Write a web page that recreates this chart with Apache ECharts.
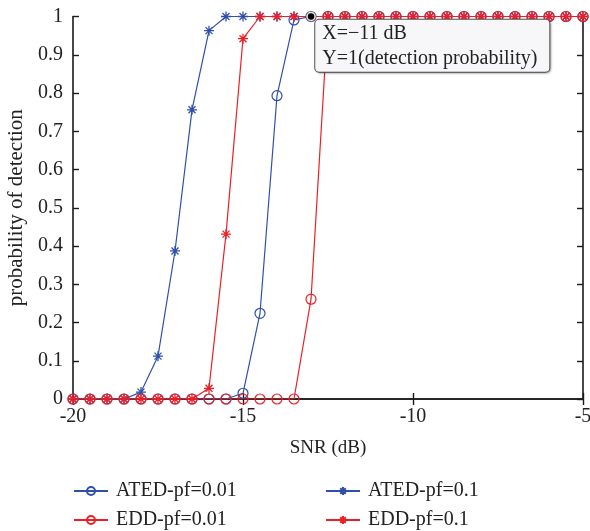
<!DOCTYPE html>
<html>
<head>
<meta charset="utf-8">
<script src="https://cdn.jsdelivr.net/npm/echarts@6/dist/echarts.min.js"></script>
<style>html,body{margin:0;padding:0;background:#fff;}#c{width:590px;height:531px;}</style>
</head>
<body>
<div id="c"></div>
<script>
var snr = [-20,-19.5,-19,-18.5,-18,-17.5,-17,-16.5,-16,-15.5,-15,-14.5,-14,-13.5,-13,-12.5,-12,-11.5,-11,-10.5,-10,-9.5,-9,-8.5,-8,-7.5,-7,-6.5,-6,-5.5,-5];
var atedPf001 = [0,0,0,0,0,0,0,0,0,0,0.015,0.224,0.793,0.991,1,1,1,1,1,1,1,1,1,1,1,1,1,1,1,1,1];
var atedPf01  = [0,0,0,0,0.018,0.112,0.387,0.756,0.963,1,1,1,1,1,1,1,1,1,1,1,1,1,1,1,1,1,1,1,1,1,1];
var eddPf001  = [0,0,0,0,0,0,0,0,0,0,0,0,0,0,0.261,1,1,1,1,1,1,1,1,1,1,1,1,1,1,1,1];
var eddPf01   = [0,0,0,0,0,0,0,0,0.028,0.431,0.942,1,1,1,1,1,1,1,1,1,1,1,1,1,1,1,1,1,1,1,1];
var seriesNames = ['ATED-pf=0.01','ATED-pf=0.1','EDD-pf=0.01','EDD-pf=0.1'];
var xTicks = [-20,-15,-10,-5];
var tipPoint = [-13, 1];
var tipText = ['X=\u221211 dB','Y=1(detection probability)'];

var BLUE = '#3050a8', RED = '#ec1f26';
var FONT = 'Liberation Serif';
var STAR = 'path://M0,-5L0,5M-5,0L5,0M-3.5,-3.5L3.5,3.5M-3.5,3.5L3.5,-3.5';

function pairs(v){ return snr.map(function(x,i){return [x, v[i]];}); }
function mk(name, data, color, star){
  return {
    name: name, type: 'line', data: pairs(data),
    symbol: star ? STAR : 'circle',
    symbolSize: 10,
    lineStyle: {color: color, width: 1.2},
    itemStyle: star ? {color: color, borderColor: color, borderWidth: 1.3}
                    : {color: 'rgba(255,255,255,0)', borderColor: color, borderWidth: 1.2},
    emphasis: {disabled: true},
    animation: false,
    z: 2
  };
}
var series = [
  mk(seriesNames[0], atedPf001, BLUE, false),
  mk(seriesNames[1], atedPf01, BLUE, true),
  mk(seriesNames[2], eddPf001, RED, false),
  mk(seriesNames[3], eddPf01, RED, true)
];
series[0].markPoint = {
  animation: false,
  symbol: 'circle', symbolSize: 8,
  itemStyle: {color: '#000', borderColor: '#e8e4c8', borderWidth: 1.5},
  data: [{coord: tipPoint}],
  label: {
    show: true,
    position: [9, 8],
    align: 'left', verticalAlign: 'top',
    formatter: tipText.join('\n'),
    fontFamily: FONT, fontSize: 20, color: '#222', lineHeight: 25,
    backgroundColor: '#f7f7f9', borderColor: '#555', borderWidth: 1, borderRadius: 4,
    padding: [1, 12, 1, 7],
    shadowColor: 'rgba(0,0,0,0.25)', shadowBlur: 2, shadowOffsetX: 1, shadowOffsetY: 1
  }
};

var axisLine = {show: true, lineStyle: {color: '#1a1a1a', width: 1.6}};
function leg(name, left, top){
  return {data: [name], left: left, top: top, padding: 0, itemWidth: 34, itemHeight: 10,
    textStyle: {fontFamily: FONT, fontSize: 20, color: '#222', padding: [0,0,0,3]}};
}
var chart = echarts.init(document.getElementById('c'), null, {renderer: 'canvas'});
chart.setOption({
  animation: false,
  backgroundColor: '#fff',
  grid: {left: 73, right: 7, top: 16.5, bottom: 132, containLabel: false, outerBoundsMode: 'none'},
  legend: [
    leg(seriesNames[0], 73, 481),
    leg(seriesNames[2], 73, 510),
    leg(seriesNames[1], 325, 481),
    leg(seriesNames[3], 325, 510)
  ],
  xAxis: [{
    type: 'value', min: -20, max: -5, interval: 5,
    name: 'SNR (dB)', nameLocation: 'middle', nameGap: 40,
    nameTextStyle: {fontFamily: FONT, fontSize: 19, color: '#222'},
    axisLine: axisLine,
    axisTick: {show: true, inside: true, length: 6, lineStyle: {color: '#1a1a1a', width: 1.4}},
    axisLabel: {fontFamily: FONT, fontSize: 20, color: '#222', margin: 8,
      formatter: function(v){ return xTicks.indexOf(v) >= 0 ? String(v) : ''; }},
    splitLine: {show: false}
  },{
    type: 'value', position: 'top', min: -20, max: -5, interval: 5,
    axisLine: axisLine,
    axisTick: {show: true, inside: true, length: 6, lineStyle: {color: '#1a1a1a', width: 1.4}},
    axisLabel: {show: false}, splitLine: {show: false}
  }],
  yAxis: [{
    type: 'value', min: 0, max: 1, interval: 0.1,
    name: 'probability of detection', nameLocation: 'middle', nameGap: 45,
    nameTextStyle: {fontFamily: FONT, fontSize: 21, color: '#222'},
    axisLine: axisLine,
    axisTick: {show: true, inside: true, length: 6, lineStyle: {color: '#1a1a1a', width: 1.4}},
    axisLabel: {fontFamily: FONT, fontSize: 20, color: '#222', margin: 10,
      formatter: function(v){ return String(Math.round(v*10)/10); }},
    splitLine: {show: false}
  },{
    type: 'value', position: 'right', min: 0, max: 1, interval: 0.1,
    axisLine: axisLine,
    axisTick: {show: true, inside: true, length: 6, lineStyle: {color: '#1a1a1a', width: 1.4}},
    axisLabel: {show: false}, splitLine: {show: false}
  }],
  series: series
});
</script>
</body>
</html>
